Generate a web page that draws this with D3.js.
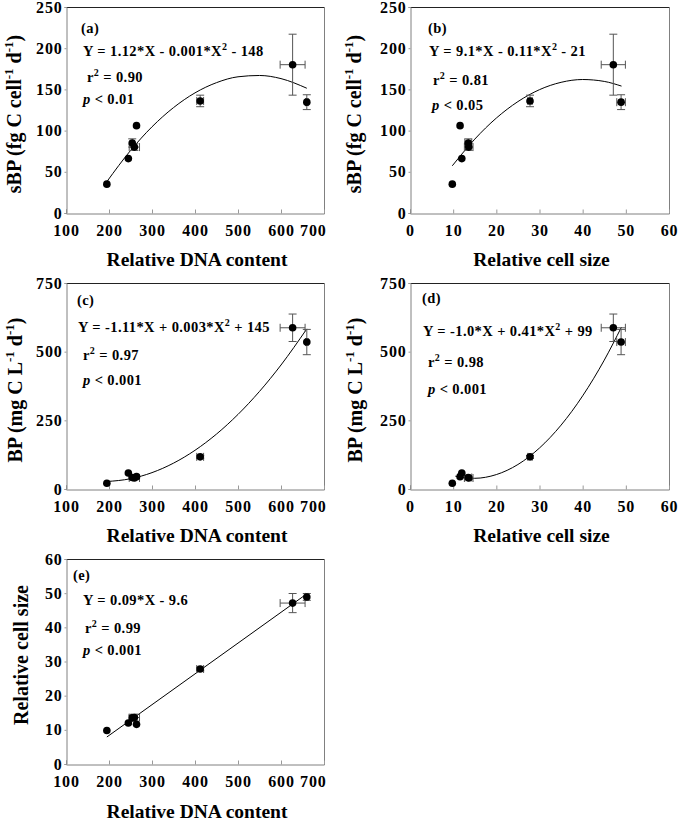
<!DOCTYPE html>
<html><head><meta charset="utf-8">
<script src="https://cdn.jsdelivr.net/npm/d3@7"></script>
<style>
html,body{margin:0;padding:0;background:#fff;}
svg{display:block;}
text{font-family:"Liberation Serif","Times New Roman",serif;font-weight:bold;fill:#000;}
</style></head>
<body>
<svg id="chart" width="679" height="821"></svg>
<script>
// ---- data ----
const dnaContent   = [195, 245, 254, 259, 264, 412, 627, 660];
const dnaErr       = [0, 0, 0, 12, 0, 8, 29, 3];
const cellSize     = [9.8, 12.0, 13.5, 13.6, 11.6, 27.8, 47.1, 48.9];
const cellSizeErr  = [0, 0, 0.8, 1.0, 0, 0.5, 2.8, 1.0];
const sBP          = [35, 66, 85, 80, 106, 136, 180, 134.5];
const sBPErr       = [0, 0, 5, 4, 0, 7, 37, 9];
const BP           = [21, 58, 42, 40, 45, 117, 587, 535];
const BPErr        = [0, 0, 5, 5, 0, 5, 50, 46];

// fitted curves
const fitA_x = [195, 250, 300, 350, 400, 450, 500, 550, 600, 660];
const fitA_y = [38.0, 75.8, 104.6, 127.9, 145.8, 158.2, 165.3, 166.9, 163.1, 151.4];
const fitB_x = [9.8, 12, 15, 20, 25, 30, 35, 40, 45, 49];
const fitB_y = [57.3, 71.5, 89.6, 115.2, 135.2, 149.7, 158.6, 162.0, 159.7, 154.0];
const fitC_x = [195, 250, 300, 350, 400, 450, 500, 550, 600, 660];
const fitC_y = [27.2, 37.4, 59.6, 94.1, 140.9, 200.0, 271.5, 355.3, 451.4, 583.0];
const fitD_x = [10.5, 12, 15, 20, 25, 30, 35, 40, 45, 49];
const fitD_y = [46.7, 42.0, 39.0, 52.5, 89.2, 149.3, 232.6, 339.2, 469.1, 589.8];
const fitE_x = [195, 660];
const fitE_y = [7.9, 49.8];

// tick labels
const dnaTicks   = [100, 200, 300, 400, 500, 600, 700];
const cellTicks  = [0, 10, 20, 30, 40, 50, 60];
const sBPTicks   = [0, 50, 100, 150, 200, 250];
const BPTicks    = [0, 250, 500, 750];
const cellYTicks = [0, 10, 20, 30, 40, 50, 60];

// ---- layout ----
const svg = d3.select('#chart');
const FONT = '"Liberation Serif","Times New Roman",serif';

function rich(sel, parts){
  parts.forEach(p=>{
    const ts = sel.append('tspan').text(p.t);
    if (p.it) ts.attr('font-style','italic');
    if (p.sup){ ts.attr('font-size', p.fs).attr('dy', -p.up); }
    if (p.down){ ts.attr('dy', p.down); }
  });
}

const supT = [{t:'-1',sup:true,fs:13,up:8}];
const panels = [
  {x0:66, x1:324, y0:7, y1:213, xd:[100,700], yd:[0,250], xt:dnaTicks, yt:sBPTicks,
   xv:dnaContent, xe:dnaErr, yv:sBP, ye:sBPErr, fx:fitA_x, fy:fitA_y,
   xtitle:'Relative DNA content', xtitleY:266, ytitleX:21, ytitleY:114,
   ytitle:[{t:'sBP (fg C cell'},{t:'-1',sup:true,fs:13,up:8},{t:' d',down:8},{t:'-1',sup:true,fs:13,up:8},{t:')',down:8}],
   lastShift:true,
   ann:[
    {x:81,y:33,parts:[{t:'(a)'}]},
    {x:83,y:56,parts:[{t:'Y = 1.12*X - 0.001*X'},{t:'2',sup:true,fs:10,up:6},{t:' - 148',down:6}]},
    {x:87,y:82,parts:[{t:'r'},{t:'2',sup:true,fs:10,up:6},{t:' = 0.90',down:6}]},
    {x:83,y:104,parts:[{t:'p',it:true},{t:' < 0.01'}]}
   ]},
  {x0:410, x1:669, y0:7, y1:213, xd:[0,60], yd:[0,250], xt:cellTicks, yt:sBPTicks,
   xv:cellSize, xe:cellSizeErr, yv:sBP, ye:sBPErr, fx:fitB_x, fy:fitB_y,
   xtitle:'Relative cell size', xtitleY:266, ytitleX:361, ytitleY:114,
   ytitle:[{t:'sBP (fg C cell'},{t:'-1',sup:true,fs:13,up:8},{t:' d',down:8},{t:'-1',sup:true,fs:13,up:8},{t:')',down:8}],
   lastShift:false,
   ann:[
    {x:428,y:33,parts:[{t:'(b)'}]},
    {x:429,y:56,parts:[{t:'Y = 9.1*X - 0.11*X'},{t:'2',sup:true,fs:10,up:6},{t:' - 21',down:6}]},
    {x:433,y:85,parts:[{t:'r'},{t:'2',sup:true,fs:10,up:6},{t:' = 0.81',down:6}]},
    {x:432,y:110,parts:[{t:'p',it:true},{t:' < 0.05'}]}
   ]},
  {x0:66, x1:324, y0:283, y1:489, xd:[100,700], yd:[0,750], xt:dnaTicks, yt:BPTicks,
   xv:dnaContent, xe:dnaErr, yv:BP, ye:BPErr, fx:fitC_x, fy:fitC_y,
   xtitle:'Relative DNA content', xtitleY:542, ytitleX:22, ytitleY:390,
   ytitle:[{t:'BP (mg C L'},{t:'-1',sup:true,fs:13,up:8},{t:' d',down:8},{t:'-1',sup:true,fs:13,up:8},{t:')',down:8}],
   lastShift:true,
   ann:[
    {x:77,y:305,parts:[{t:'(c)'}]},
    {x:78,y:332,parts:[{t:'Y = -1.11*X + 0.003*X'},{t:'2',sup:true,fs:10,up:6},{t:' + 145',down:6}]},
    {x:83,y:360,parts:[{t:'r'},{t:'2',sup:true,fs:10,up:6},{t:' = 0.97',down:6}]},
    {x:83,y:385,parts:[{t:'p',it:true},{t:' < 0.001'}]}
   ]},
  {x0:410, x1:669, y0:283, y1:489, xd:[0,60], yd:[0,750], xt:cellTicks, yt:BPTicks,
   xv:cellSize, xe:cellSizeErr, yv:BP, ye:BPErr, fx:fitD_x, fy:fitD_y,
   xtitle:'Relative cell size', xtitleY:542, ytitleX:362, ytitleY:390,
   ytitle:[{t:'BP (mg C L'},{t:'-1',sup:true,fs:13,up:8},{t:' d',down:8},{t:'-1',sup:true,fs:13,up:8},{t:')',down:8}],
   lastShift:false,
   ann:[
    {x:422,y:303,parts:[{t:'(d)'}]},
    {x:423,y:336,parts:[{t:'Y = -1.0*X + 0.41*X'},{t:'2',sup:true,fs:10,up:6},{t:' + 99',down:6}]},
    {x:428,y:367,parts:[{t:'r'},{t:'2',sup:true,fs:10,up:6},{t:' = 0.98',down:6}]},
    {x:428,y:394,parts:[{t:'p',it:true},{t:' < 0.001'}]}
   ]},
  {x0:66, x1:324, y0:559, y1:764, xd:[100,700], yd:[0,60], xt:dnaTicks, yt:cellYTicks,
   xv:dnaContent, xe:dnaErr, yv:cellSize, ye:cellSizeErr, fx:fitE_x, fy:fitE_y,
   xtitle:'Relative DNA content', xtitleY:818, ytitleX:28, ytitleY:655,
   ytitle:[{t:'Relative cell size'}],
   lastShift:true,
   ann:[
    {x:73,y:580,parts:[{t:'(e)'}]},
    {x:83,y:605,parts:[{t:'Y = 0.09*X - 9.6'}]},
    {x:85,y:633,parts:[{t:'r'},{t:'2',sup:true,fs:10,up:6},{t:' = 0.99',down:6}]},
    {x:83,y:655,parts:[{t:'p',it:true},{t:' < 0.001'}]}
   ]}
];

panels.forEach(p=>{
  const g = svg.append('g');
  const x = d3.scaleLinear().domain(p.xd).range([p.x0,p.x1]);
  const y = d3.scaleLinear().domain(p.yd).range([p.y1,p.y0]);

  // frame
  g.append('line').attr('x1',p.x0).attr('x2',p.x1).attr('y1',p.y0+0.5).attr('y2',p.y0+0.5).attr('stroke','#222').attr('stroke-width',1);
  g.append('line').attr('x1',p.x1+0.5).attr('x2',p.x1+0.5).attr('y1',p.y0).attr('y2',p.y1).attr('stroke','#808080').attr('stroke-width',1);

  // x axis (ticks inward)
  const xa = g.append('g').attr('transform',`translate(0,${p.y1+0.5})`)
    .call(d3.axisBottom(x).tickValues(p.xt).tickSize(-4).tickFormat(d3.format('d')));
  xa.attr('font-family',FONT);
  xa.select('.domain').attr('stroke','#808080');
  xa.selectAll('.tick line').attr('stroke','#999');
  xa.selectAll('.tick text').attr('dy',null).attr('y',22).attr('font-size',16)
    .attr('font-family',FONT).attr('font-weight','bold').attr('fill','#000')
    .attr('letter-spacing','0.8px');
  if (p.lastShift){
    xa.selectAll('.tick').filter(d=>d===p.xd[1]).select('text').attr('text-anchor','end').attr('x',2);
  }

  // y axis (ticks outward, short)
  const ya = g.append('g').attr('transform',`translate(${p.x0+0.5},0)`)
    .call(d3.axisLeft(y).tickValues(p.yt).tickSize(2).tickPadding(2).tickFormat(d3.format('d')));
  ya.attr('font-family',FONT);
  ya.select('.domain').attr('stroke','#808080');
  ya.selectAll('.tick line').attr('stroke','#999');
  ya.selectAll('.tick text').attr('font-size',16)
    .attr('font-family',FONT).attr('font-weight','bold').attr('fill','#000')
    .attr('letter-spacing','0.8px');

  // fitted line
  const pts = p.fx.map((v,i)=>[v,p.fy[i]]);
  g.append('path').datum(pts)
    .attr('d', d3.line().x(d=>x(d[0])).y(d=>y(d[1])).curve(d3.curveMonotoneX))
    .attr('fill','none').attr('stroke','#000').attr('stroke-width',1);

  // error bars
  const idx = d3.range(p.xv.length);
  const eb = g.append('g').attr('stroke','#555').attr('stroke-width',1);
  idx.forEach(i=>{
    const cx = x(p.xv[i]), cy = y(p.yv[i]);
    if (p.ye[i]>0){
      const ya1 = y(p.yv[i]+p.ye[i]), ya2 = y(p.yv[i]-p.ye[i]);
      eb.append('line').attr('x1',cx).attr('x2',cx).attr('y1',ya1).attr('y2',ya2);
      eb.append('line').attr('x1',cx-4).attr('x2',cx+4).attr('y1',ya1).attr('y2',ya1);
      eb.append('line').attr('x1',cx-4).attr('x2',cx+4).attr('y1',ya2).attr('y2',ya2);
    }
    if (p.xe[i]>0){
      const xa1 = x(p.xv[i]-p.xe[i]), xa2 = x(p.xv[i]+p.xe[i]);
      eb.append('line').attr('x1',xa1).attr('x2',xa2).attr('y1',cy).attr('y2',cy);
      eb.append('line').attr('x1',xa1).attr('x2',xa1).attr('y1',cy-4).attr('y2',cy+4);
      eb.append('line').attr('x1',xa2).attr('x2',xa2).attr('y1',cy-4).attr('y2',cy+4);
    }
  });

  // points
  g.append('g').selectAll('circle').data(idx).join('circle')
    .attr('cx',i=>x(p.xv[i])).attr('cy',i=>y(p.yv[i])).attr('r',3.8).attr('fill','#000');

  // titles
  g.append('text').attr('x',(p.x0+p.x1)/2+2).attr('y',p.xtitleY).attr('text-anchor','middle')
    .attr('font-family',FONT).attr('font-size',19.5).text(p.xtitle);
  const yt = g.append('text').attr('text-anchor','middle').attr('font-size',20).attr('font-family',FONT)
    .attr('transform',`translate(${p.ytitleX},${p.ytitleY}) rotate(-90)`);
  rich(yt, p.ytitle);

  // annotations
  p.ann.forEach(a=>{
    const t = g.append('text').attr('x',a.x).attr('y',a.y).attr('font-size',14.5)
      .attr('font-family',FONT).attr('letter-spacing','0.4px');
    rich(t, a.parts);
  });
});
</script>
</body></html>
